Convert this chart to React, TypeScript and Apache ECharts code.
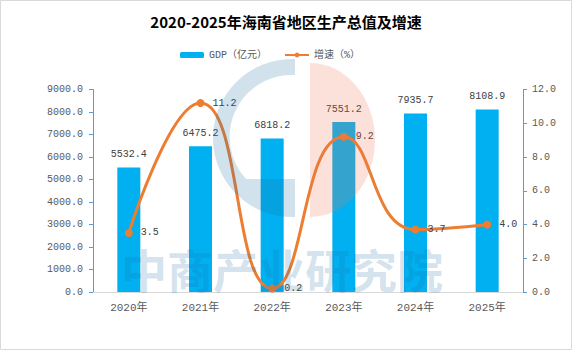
import React, { useEffect, useRef } from "react";
import * as echarts from "echarts";

const years = ["2020年", "2021年", "2022年", "2023年", "2024年", "2025年"];
const gdp = [5532.4, 6475.2, 6818.2, 7551.2, 7935.7, 8108.9];
const growth = [3.5, 11.2, 0.2, 9.2, 3.7, 4.0];
const titleText = "2020-2025年海南省地区生产总值及增速";
const gdpName = "GDP（亿元）";
const growthName = "增速（%）";
const watermark = "中商产业研究院";

const NUM_FONT = "'Liberation Mono', 'Noto Sans CJK SC', monospace";

echarts.graphic.registerShape(
  "logoC",
  echarts.graphic.extendPath(
    "M295,59 L292,59 A79,79 0 0 0 292,217 L295,217 L295,179 L246,179 A62,62 0 0 1 292,75 L295,75 Z",
    {}
  )
);
echarts.graphic.registerShape(
  "logoD",
  echarts.graphic.extendPath("M310,63 A65,77 0 0 1 310,217 Z", {})
);

export default function App() {
  const ref = useRef<HTMLDivElement>(null);
  useEffect(() => {
    if (!ref.current) return;
    const chart = echarts.init(ref.current, undefined, { renderer: "svg" });
    chart.setOption({
      animation: false,
      backgroundColor: "#ffffff",
      title: {
        text: titleText,
        left: "center",
        top: 9,
        textStyle: {
          fontFamily: "'Noto Sans CJK SC', sans-serif",
          fontSize: 15,
          fontWeight: "bold",
          color: "#000000",
        },
      },
      legend: {
        left: 175,
        top: 45,
        itemWidth: 24,
        itemHeight: 6,
        itemGap: 17,
        textStyle: { fontFamily: NUM_FONT, fontSize: 10, color: "#595959" },
        data: [gdpName, growthName],
      },
      grid: { left: 93, right: 49, top: 89.5, bottom: 58 },
      xAxis: {
        type: "category",
        data: years,
        axisLine: { lineStyle: { color: "#D9D9D9", width: 1 } },
        axisTick: { show: false },
        axisLabel: { fontFamily: NUM_FONT, fontSize: 11, color: "#595959", margin: 10 },
      },
      yAxis: [
        {
          type: "value",
          min: 0,
          max: 9000,
          interval: 1000,
          splitLine: { show: false },
          axisLine: { show: true, lineStyle: { color: "#5B9BD5" } },
          axisTick: { show: true, length: 4, lineStyle: { color: "#5B9BD5" } },
          axisLabel: {
            fontFamily: NUM_FONT,
            fontSize: 10,
            color: "#595959",
            margin: 10,
            formatter: (v: number) => v.toFixed(1),
          },
        },
        {
          type: "value",
          min: 0,
          max: 12,
          interval: 2,
          position: "right",
          splitLine: { show: false },
          axisLine: { show: true, lineStyle: { color: "#5B9BD5" } },
          axisTick: { show: true, length: 4, lineStyle: { color: "#5B9BD5" } },
          axisLabel: {
            fontFamily: NUM_FONT,
            fontSize: 10,
            color: "#595959",
            margin: 9,
            formatter: (v: number) => v.toFixed(1),
          },
        },
      ],
      series: [
        {
          name: gdpName,
          type: "bar",
          data: gdp,
          barWidth: 23,
          itemStyle: { color: "#00B0F0" },
          label: {
            show: true,
            position: "top",
            distance: 8,
            fontFamily: NUM_FONT,
            fontSize: 10,
            color: "#404040",
            formatter: (p: any) => Number(p.value).toFixed(1),
          },
        },
        {
          name: growthName,
          type: "line",
          yAxisIndex: 1,
          data: growth,
          smooth: 0.5,
          symbol: "circle",
          symbolSize: 8,
          lineStyle: { color: "#ED7D31", width: 3 },
          itemStyle: { color: "#ED7D31" },
          label: {
            show: true,
            position: "right",
            distance: 8,
            fontFamily: NUM_FONT,
            fontSize: 10,
            color: "#404040",
            formatter: (p: any) => Number(p.value).toFixed(1),
          },
        },
      ],
      graphic: [
        {
          type: "rect",
          z: 200,
          shape: { x: 0.5, y: 0.5, width: 571, height: 349 },
          style: { fill: "none", stroke: "#D9D9D9", lineWidth: 1 },
          silent: true,
        },
        {
          type: "logoC",
          x: 0,
          y: 0,
          z: 100,
          silent: true,
          style: { fill: "rgba(30,110,160,0.2)" },
        },
        {
          type: "logoD",
          x: 0,
          y: 0,
          z: 100,
          silent: true,
          style: { fill: "rgba(235,120,80,0.22)" },
        },
        {
          type: "text",
          x: 282,
          y: 268,
          z: 100,
          silent: true,
          style: {
            text: watermark,
            fontFamily: "'Noto Sans CJK SC', sans-serif",
            fontSize: 46,
            fontWeight: "bold",
            fill: "rgba(30,110,160,0.2)",
            textAlign: "center",
            textVerticalAlign: "middle",
          },
        },
      ],
    });
    return () => chart.dispose();
  }, []);
  return (
    <div
      ref={ref}
      style={{ position: "fixed", left: 0, top: 0, width: 572, height: 350, background: "#fff" }}
    />
  );
}
